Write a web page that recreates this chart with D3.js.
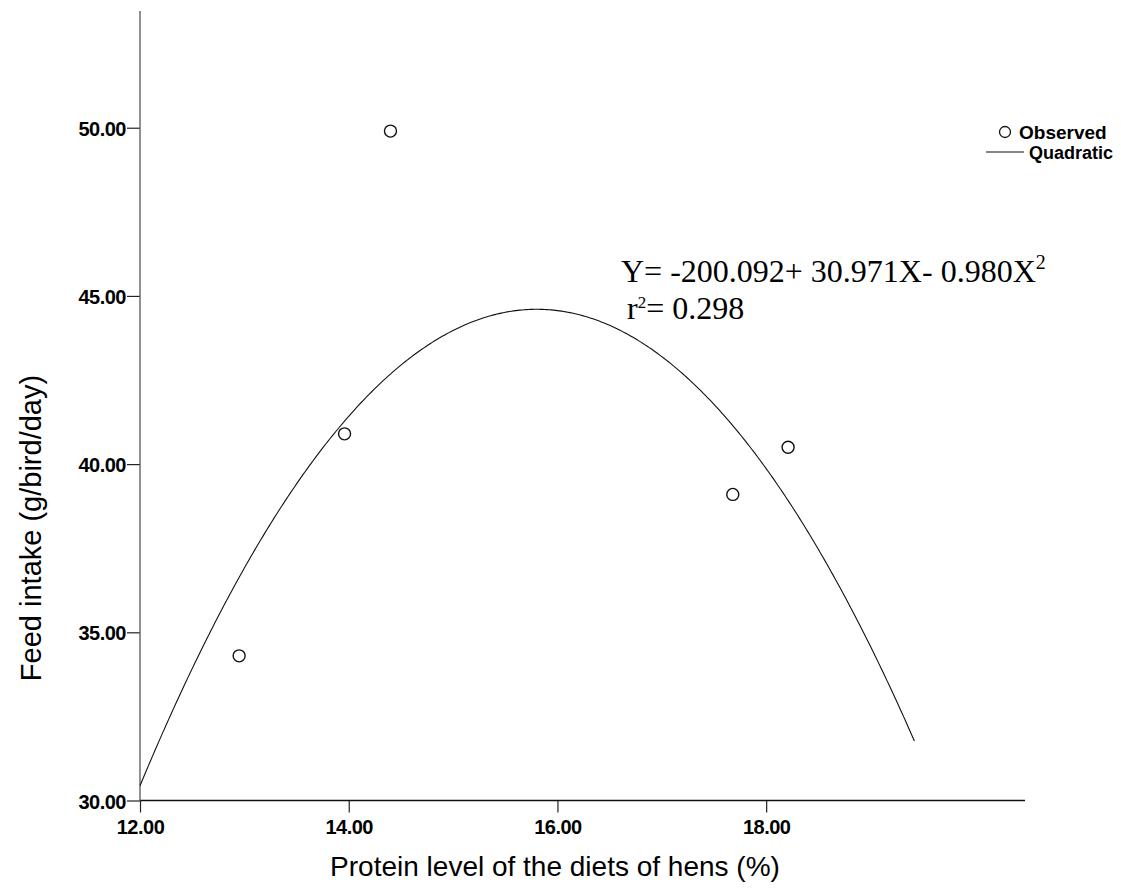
<!DOCTYPE html>
<html>
<head>
<meta charset="utf-8">
<script src="https://cdn.jsdelivr.net/npm/d3@7"></script>
<style>
  html, body { margin: 0; padding: 0; background: #fff; }
  svg { display: block; }
  .tick text { font-family: "Liberation Sans", Arial, sans-serif; font-weight: bold; font-size: 20px; letter-spacing: -0.5px; fill: #000; }
</style>
</head>
<body>
<svg id="chart" width="1121" height="892"></svg>
<script>
// Observed means: protein level (%) vs. feed intake (g/bird/day)
const proteinLevel = [12.95, 13.96, 14.40, 17.68, 18.21];
const feedIntake   = [34.30, 40.90, 49.90, 39.10, 40.50];

// Quadratic fit Y = b0 + b1*X + b2*X^2 and the X range it is drawn over
const fitCoefficients = [-200.092, 30.971, -0.980];
const fitRange = [12, 19.42];

const xTicks = [12, 14, 16, 18];
const yTicks = [30, 35, 40, 45, 50];
const legendLabels = ["Observed", "Quadratic"];
const xTitle = "Protein level of the diets of hens (%)";
const yTitle = "Feed intake (g/bird/day)";

const svg = d3.select("#chart");
const plotLeft = 140, plotRight = 1025, plotTop = 11, plotBottom = 800.5;

const x = d3.scaleLinear().domain([12, 20.48]).range([plotLeft, plotRight]);
const y = d3.scaleLinear().domain([30, 53.47]).range([plotBottom, plotTop]);
const fmt = d3.format(".2f");

// Axes
const gx = svg.append("g").attr("transform", `translate(0,${plotBottom})`)
  .call(d3.axisBottom(x).tickValues(xTicks).tickFormat(fmt).tickSize(12).tickPadding(7));
gx.select(".domain").remove();
gx.selectAll(".tick line").attr("stroke", "#222").attr("stroke-width", 1.2);

const gy = svg.append("g").attr("transform", `translate(${plotLeft},0)`)
  .call(d3.axisLeft(y).tickValues(yTicks).tickFormat(fmt).tickSize(13).tickPadding(1));
gy.select(".domain").remove();
gy.selectAll(".tick line").attr("stroke", "#222").attr("stroke-width", 1.2);
gy.selectAll(".tick text").attr("dy", "0.38em");

svg.append("line").attr("x1", plotLeft).attr("x2", plotRight).attr("y1", plotBottom).attr("y2", plotBottom)
  .attr("stroke", "#111").attr("stroke-width", 1.5);
svg.append("line").attr("x1", plotLeft).attr("x2", plotLeft).attr("y1", plotTop).attr("y2", plotBottom)
  .attr("stroke", "#555").attr("stroke-width", 1.3);

// Fitted quadratic curve
const quad = X => fitCoefficients[0] + fitCoefficients[1] * X + fitCoefficients[2] * X * X;
const curveX = d3.range(fitRange[0], fitRange[1] + 1e-9, 0.02);
svg.append("path")
  .datum(curveX)
  .attr("fill", "none").attr("stroke", "#111").attr("stroke-width", 1.1)
  .attr("d", d3.line().x(d => x(d)).y(d => y(quad(d))));

// Observed points
svg.append("g").selectAll("circle")
  .data(proteinLevel.map((p, i) => [p, feedIntake[i]]))
  .join("circle")
  .attr("cx", d => x(d[0])).attr("cy", d => y(d[1])).attr("r", 6)
  .attr("fill", "#fff").attr("stroke", "#111").attr("stroke-width", 1.4);

// Equation annotation
const serif = "'Liberation Serif', 'Times New Roman', serif";
const eq = svg.append("text").attr("x", 621).attr("y", 282)
  .attr("font-family", serif).attr("font-size", 32).attr("fill", "#000");
eq.append("tspan").text("Y= -200.092+ 30.971X- 0.980X");
eq.append("tspan").attr("dy", -13).attr("font-size", 20).text("2");

const r2 = svg.append("text").attr("x", 627).attr("y", 319)
  .attr("font-family", serif).attr("font-size", 32).attr("fill", "#000");
r2.append("tspan").text("r");
r2.append("tspan").attr("dy", -11).attr("font-size", 17).text("2");
r2.append("tspan").attr("dy", 11).text("= 0.298");

// Legend
const legend = svg.append("g").attr("font-family", "'Liberation Sans', Arial, sans-serif")
  .attr("font-weight", "bold");
legend.append("circle").attr("cx", 1005).attr("cy", 132).attr("r", 5.5)
  .attr("fill", "#fff").attr("stroke", "#111").attr("stroke-width", 1.3);
legend.append("text").attr("x", 1019).attr("y", 139).attr("font-size", 19).text(legendLabels[0]);
legend.append("line").attr("x1", 986).attr("x2", 1024).attr("y1", 152).attr("y2", 152)
  .attr("stroke", "#111").attr("stroke-width", 1.1);
legend.append("text").attr("x", 1029).attr("y", 159).attr("font-size", 18).text(legendLabels[1]);

// Axis titles
svg.append("text").attr("x", 555).attr("y", 876).attr("text-anchor", "middle")
  .attr("font-family", "'Liberation Sans', Arial, sans-serif").attr("font-size", 28).attr("fill", "#000")
  .text(xTitle);
svg.append("text").attr("transform", "translate(41,528) rotate(-90)")
  .attr("text-anchor", "middle")
  .attr("font-family", "'Liberation Sans', Arial, sans-serif").attr("font-size", 29).attr("fill", "#000")
  .text(yTitle);
</script>
</body>
</html>
